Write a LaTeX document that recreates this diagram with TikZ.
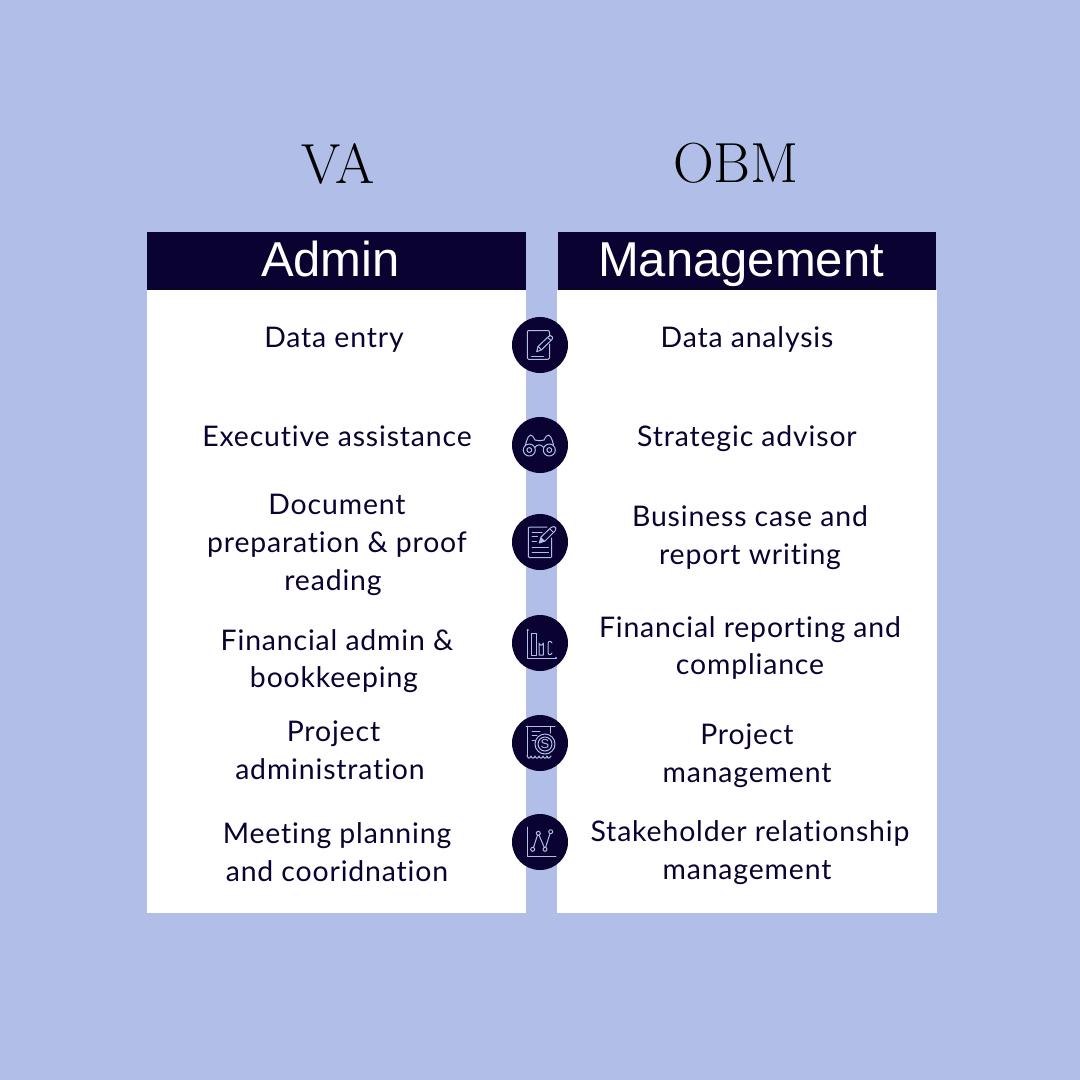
\documentclass[tikz,border=0pt]{standalone}
\usepackage{fontspec}
\setmainfont[Ligatures=CommonOff,LetterSpace=3]{Lato}
\newfontfamily\headfont{Liberation Sans}
\newfontfamily\titlefont{Latin Modern Roman}
\definecolor{bgblue}{HTML}{B0BEE8}
\definecolor{navy}{HTML}{0A0230}
\tikzset{
 x=1pt,y=-1pt,
 panel/.style={fill=white,draw=none,minimum height=623,inner sep=0,outer sep=0,anchor=north west},
 band/.style={fill=navy,draw=none,minimum height=58,inner sep=0,outer sep=0,anchor=north west},
 headtext/.style={text=white,inner sep=0,anchor=base,font=\headfont\fontsize{49}{49}\selectfont},
 title/.style={text=black,inner sep=0,font=\titlefont\fontsize{56.5}{56.5}\selectfont},
 item/.style={text=navy,inner sep=0,align=center,font=\fontsize{28.4}{37.7}\selectfont},
 disc/.style={circle,fill=navy,draw=none,minimum size=56,inner sep=0},
 ic/.style={draw=bgblue,line width=1,line join=round,line cap=round,fill=none},
}
\begin{document}
\begin{tikzpicture}
\useasboundingbox (0,0) rectangle (1080,1080);
\fill[bgblue] (0,0) rectangle (1080,1080);
\node[title] (va) at (338,163.5) {VA};
\node[title] (obm) at (736,163.5) {OBM};
\node[panel,minimum width=379] (lp) at (147,289.5) {};
\node[panel,minimum width=379.5] (rp) at (557,289.5) {};
\node[band,minimum width=378.5] (lb) at (147,232) {};
\node[band,minimum width=378.5] (rb) at (557.5,232) {};
\node[headtext] (lh) at (330.5,276) {Admin};
\node[headtext] (rh) at (741,276) {Management};
% left items
\node[item] (l1) at (334,340) {Data entry};
\node[item] (l2) at (337,436) {Executive assistance};
\node[item] (l3) at (337,545) {Document\\preparation \& proof\\reading\hspace*{8pt}};
\node[item] (l4) at (337,661) {Financial admin \&\\bookkeeping\hspace*{6pt}};
\node[item] (l5) at (330,750) {\hspace*{7pt}Project\\administration};
\node[item] (l6) at (337,852) {Meeting planning\\and cooridnation};
% right items
\node[item] (r1) at (747,339) {Data analysis};
\node[item] (r2) at (747,439) {Strategic advisor};
\node[item] (r3) at (750,537.5) {Business case and\\report writing};
\node[item] (r4) at (750,648) {Financial reporting and\\compliance};
\node[item] (r5) at (747,755.5) {Project\\management};
\node[item] (r6) at (750,852.5) {Stakeholder relationship\\management\hspace*{6pt}};
% discs
\node[disc] (d1) at (540,345) {};
\node[disc] (d2) at (540,445) {};
\node[disc] (d3) at (540,542) {};
\node[disc] (d4) at (540,643) {};
\node[disc] (d5) at (540,743) {};
\node[disc] (d6) at (540,842) {};
% icon 1: notepad and pen
\begin{scope}[shift={(d1.center)}]
\draw[ic] (9.5,-9) -- (9.5,-12.5) .. controls (9.5,-13.5) and (9,-14.5) .. (8,-14.5) -- (-11.5,-14.5) -- (-12.7,-13.5) -- (-12.7,13) -- (-11.5,14.3) -- (8,14.3) -- (9.5,13) -- (9.5,-1);
\draw[ic] (-8.3,11) -- (3.3,11);
\draw[ic] (-3.3,6.7) -- (-2,1.5) -- (8.5,-8.5) -- (10.5,-9.5) -- (12.7,-7.7) -- (12,-5.5) -- (1.5,4.8) -- cycle;
\draw[ic] (-2,1.5) -- (1.5,4.8) (7.5,-7.5) -- (11,-4.5);
\end{scope}
% icon 2: binoculars
\begin{scope}[shift={(d2.center)}]
\draw[ic] (-10.7,5) circle (6) (9.3,5) circle (6);
\draw[ic] (-10.7,5) circle (2.4) (9.3,5) circle (2.4);
\draw[ic] (-5.2,2.5) .. controls (-3,-1) and (1,-1) .. (3.8,2.5);
\draw[ic] (-14.5,0) -- (-13.5,-4) .. controls (-12.5,-7) and (-11,-10) .. (-9.5,-10) .. controls (-8,-10) and (-6.5,-8) .. (-5,-5);
\draw[ic] (13.5,0) -- (12.5,-4) .. controls (11.5,-7) and (10,-10) .. (8.5,-10) .. controls (7,-10) and (5.5,-8) .. (4,-5);
\draw[ic] (-5,-5) .. controls (-2,-4) and (1,-4) .. (4,-5);
\end{scope}
% icon 3: report and pen
\begin{scope}[shift={(d3.center)}]
\draw[ic] (7,-15) -- (-10.5,-15) -- (-11.7,-14) -- (-11.7,14.5) -- (-10.5,15.7) -- (10.5,15.7) -- (11.7,14.5) -- (11.7,-4);
\draw[ic] (-8,-10) -- (2,-10) (-8,-6) -- (-2.5,-6) (-8,-1) -- (-3.5,-1);
\draw[ic] (-8,5.7) -- (8.3,5.7) (-8,10) -- (8.3,10);
\draw[ic] (-0.7,1) -- (1,-5) -- (11,-14.5) -- (14,-15.5) -- (16,-14) -- (15,-11) -- (5,-1) -- cycle;
\fill[bgblue] (-0.7,1) -- (1,-5) -- (5,-1) -- cycle;
\draw[ic] (10,-13) -- (13.5,-9.5);
\end{scope}
% icon 4: bar chart
\begin{scope}[shift={(d4.center)}]
\draw[ic] (-12.3,-13) -- (-12.3,15) -- (16,15);
\fill[bgblue] (-12.3,-13) circle (1.2) (16,15) circle (1.2);
\draw[ic] (-8.3,12) -- (-8.3,-10) -- (-4,-10) -- (-4,12) -- cycle;
\draw[ic] (-1,12) -- (-1,0) arc (180:0:2.15) -- (3.3,12) -- cycle;
\draw[ic] (12,0) .. controls (10.5,-2.5) and (8,-2.5) .. (8,1) -- (8,9) .. controls (8,12.5) and (10.5,12.5) .. (12,10);
\end{scope}
% icon 5: receipt with dollar
\begin{scope}[shift={(d5.center)}]
\draw[ic] (-14,-17) -- (15,-17);
\draw[ic] (-13,-17) -- (-13,12.5);
\draw[ic] (-13,12.5) .. controls (-11.5,16) and (-10.5,16) .. (-9,13) .. controls (-7.5,16) and (-6.5,16) .. (-5,13) .. controls (-3.5,16) and (-2.5,16) .. (-1,13) .. controls (.5,16) and (1.5,16) .. (3,13) .. controls (4.5,16) and (5.5,16) .. (7,13) .. controls (8,16) and (9,16) .. (11,13);
\draw[ic] (10,-17) -- (10,-10);
\draw[ic] (-8,-12) -- (0,-12) (-8,-8) -- (-3,-8) (-8,-3) -- (-5,-3);
\draw[ic] (5,1) circle (10);
\draw[ic] (5,1) circle (7);
\node[inner sep=0,text=bgblue,font=\headfont\fontsize{13}{13}\selectfont] (dollar) at (5,1) {S};
\end{scope}
% icon 6: line chart
\begin{scope}[shift={(d6.center)}]
\draw[ic] (-12.3,-15) -- (-12.3,14) -- (16,14);
\draw[ic] (-6.5,5.5) -- (-2.5,-6.9) (-1,-6.8) -- (4.3,5.4) (5.6,5.4) -- (10,-8.4);
\draw[ic] (-7.3,7.3) circle (2) (-1.7,-8.7) circle (2) (5,7.3) circle (2) (10.7,-10.3) circle (2);
\end{scope}
\end{tikzpicture}
\end{document}
